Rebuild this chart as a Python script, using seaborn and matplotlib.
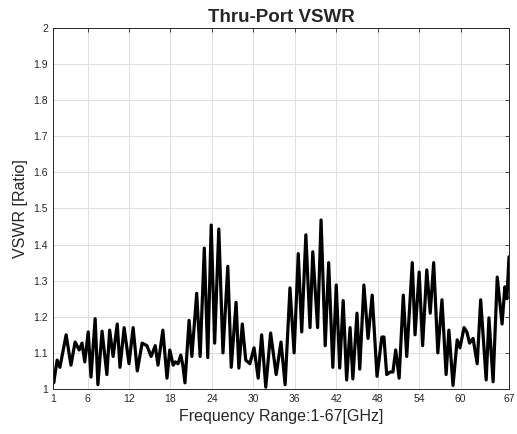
import numpy as np
import matplotlib
matplotlib.use("Agg")
import matplotlib.pyplot as plt
import seaborn as sns
import pandas as pd

# Frequency (GHz) and VSWR
freq = [1.0, 1.1, 1.6, 2.0, 2.9, 3.6, 4.2, 4.8, 5.2, 5.6, 6.1, 6.5, 7.1, 7.5,
        8.1, 8.8, 9.2, 9.7, 10.3, 10.7, 11.3, 12.0, 12.6, 13.2, 13.9, 14.6,
        15.2, 15.8, 16.2, 16.9, 17.5, 17.9, 18.4, 18.7, 19.1, 19.5, 19.8,
        20.1, 20.7, 21.1, 21.8, 22.3, 22.9, 23.4, 23.9, 24.4, 25.0, 25.6,
        26.3, 26.8, 27.5, 27.9, 28.4, 28.9, 29.5, 30.1, 30.7, 31.2, 31.8,
        32.5, 33.3, 34.0, 34.6, 35.3, 35.9, 36.5, 37.0, 37.6, 38.2, 38.6,
        39.3, 39.8, 40.4, 40.9, 41.5, 42.0, 42.5, 43.0, 43.5, 44.0, 44.4,
        45.0, 45.4, 46.0, 46.6, 47.2, 47.9, 48.6, 48.9, 49.3, 49.8, 50.2,
        50.6, 51.1, 51.7, 52.2, 53.0, 53.4, 54.0, 54.5, 55.1, 55.6, 56.1,
        56.7, 57.3, 57.9, 58.3, 58.9, 59.5, 59.9, 60.5, 60.9, 61.3, 61.8,
        62.4, 62.9, 63.7, 64.1, 64.7, 65.3, 66.0, 66.4, 66.7, 67.0]
vswr = [1.04, 1.017, 1.08, 1.06, 1.15, 1.066, 1.13, 1.108, 1.127, 1.075,
        1.158, 1.033, 1.195, 1.012, 1.16, 1.04, 1.163, 1.09, 1.18, 1.06,
        1.17, 1.07, 1.17, 1.05, 1.127, 1.12, 1.09, 1.12, 1.066, 1.163, 1.03,
        1.108, 1.066, 1.075, 1.07, 1.094, 1.065, 1.017, 1.19, 1.09, 1.265,
        1.09, 1.39, 1.087, 1.454, 1.127, 1.443, 1.1, 1.34, 1.06, 1.24, 1.058,
        1.18, 1.08, 1.07, 1.114, 1.03, 1.15, 1.005, 1.155, 1.04, 1.13, 1.012,
        1.28, 1.1, 1.375, 1.158, 1.427, 1.17, 1.38, 1.17, 1.468, 1.12, 1.35,
        1.06, 1.288, 1.058, 1.245, 1.025, 1.17, 1.028, 1.21, 1.055, 1.288,
        1.14, 1.26, 1.035, 1.144, 1.144, 1.04, 1.047, 1.047, 1.108, 1.03,
        1.26, 1.09, 1.35, 1.15, 1.324, 1.12, 1.33, 1.21, 1.35, 1.1, 1.247,
        1.04, 1.163, 1.01, 1.136, 1.114, 1.17, 1.158, 1.127, 1.14, 1.07,
        1.247, 1.025, 1.197, 1.02, 1.31, 1.18, 1.283, 1.25, 1.366]

x_ticks = [1, 6, 12, 18, 24, 30, 36, 42, 48, 54, 60, 67]
y_ticks = [1.0, 1.1, 1.2, 1.3, 1.4, 1.5, 1.6, 1.7, 1.8, 1.9, 2.0]
y_labels = ["1", "1.1", "1.2", "1.3", "1.4", "1.5", "1.6", "1.7", "1.8", "1.9", "2"]

df = pd.DataFrame({"Frequency": freq, "VSWR": vswr})

sns.set_style("white")
plt.rcParams["font.family"] = ["Liberation Sans", "DejaVu Sans"]

fig = plt.figure(figsize=(5.17, 4.34), dpi=100)
ax = fig.add_axes([0.1025, 0.1037, 0.882, 0.832])

sns.lineplot(data=df, x="Frequency", y="VSWR", color="black", linewidth=2.3,
             ax=ax, sort=False, solid_joinstyle="round", solid_capstyle="round")

ax.set_xlim(1, 67)
ax.set_ylim(1, 2)
ax.set_xticks(x_ticks)
ax.set_yticks(y_ticks)
ax.set_yticklabels(y_labels)
ax.grid(True, color="#dedede", linewidth=0.7)
ax.tick_params(direction="in", length=3, top=True, right=True,
               labelsize=7.5, colors="#262626", width=0.6)
for s in ax.spines.values():
    s.set_color("#262626")
    s.set_linewidth(0.7)

ax.set_title("Thru-Port VSWR", fontsize=13.5, fontweight="bold", pad=4)
ax.set_xlabel("Frequency Range:1-67[GHz]", fontsize=11.5, color="#262626")
ax.set_ylabel("VSWR [Ratio]", fontsize=11.5, color="#262626")

fig.savefig("out.png", dpi=100)
